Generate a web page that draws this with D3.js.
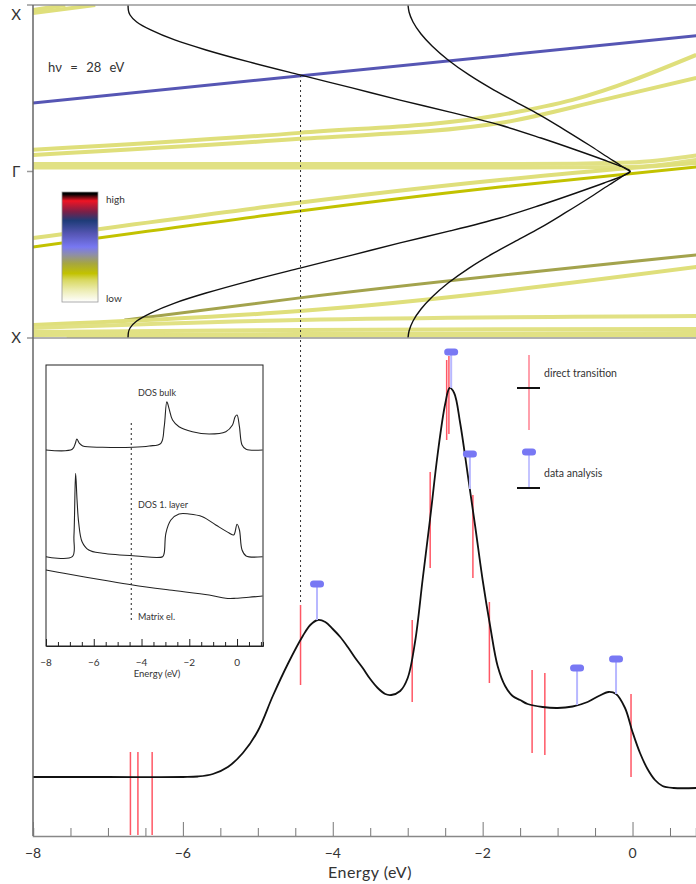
<!DOCTYPE html>
<html><head><meta charset="utf-8">
<script src="https://cdn.jsdelivr.net/npm/d3@7"></script>
<style>
html,body{margin:0;padding:0;background:#fff;}
svg{display:block;}
text{font-family:"Lato","DejaVu Sans",sans-serif;fill:#333;}
</style></head>
<body>
<svg id="fig" width="696" height="884"></svg>
<script>
// ---------- data ----------
const photonEnergy = "hν = 28 eV";
// k-points on the vertical axis of the band panel
const kLabels = [{k: 0.944, label: "X"}, {k: 0, label: "Γ"}, {k: -1, label: "X"}];
const energyTicks = [-8, -6, -4, -2, 0];

// final-state bands (black), from X (k=1) to Γ (k=0); mirrored to k<0
const finalOuter = [[-6.732,1.0],[-6.728,0.970],[-6.705,0.940],[-6.616,0.898],[-6.429,0.850],[-6.109,0.790],[-5.691,0.730],[-5.117,0.658],[-4.437,0.580],[-3.743,0.502],[-3.102,0.429],[-2.435,0.357],[-1.768,0.279],[-1.221,0.201],[-0.754,0.129],[-0.380,0.069],[-0.167,0.033],[-0.073,0.015],[-0.040,0.006],[-0.033,0]];
const finalInner = [[-2.996,1.0],[-2.982,0.958],[-2.929,0.898],[-2.822,0.826],[-2.675,0.754],[-2.461,0.670],[-2.181,0.580],[-1.848,0.489],[-1.555,0.417],[-1.234,0.339],[-0.901,0.249],[-0.580,0.159],[-0.314,0.081],[-0.167,0.039],[-0.087,0.015],[-0.047,0.005],[-0.033,0]];

// initial-state bands: intensity (0 = low .. 1 = high) and [E, k] path
const bandIntensity = [0.62, 0.17, 0.17, 0.17, 0.17, 0.16, 0.16, 0.26, 0.17, 0.36, 0.17, 0.16, 0.16, 0.16, 0.16];
const bandPaths = [
  [[-8.0, 0.412],[0.85, 0.815]],
  [[-8.0, 0.970],[-7.57, 1.0]],
  [[-8.0, 0.952],[-7.17, 1.0]],
  [[-8.0, 0.130],[-4.44, 0.232],[-1.77, 0.339],[-0.80, 0.430],[0.85, 0.700]],
  [[-8.0, 0.099],[-4.44, 0.196],[-1.77, 0.291],[-0.39, 0.430],[0.85, 0.562]],
  [[-8.0, 0.045],[-1.50, 0.045],[-0.03, 0.054],[0.85, 0.096]],
  [[-8.0, 0.024],[-1.50, 0.024],[-0.03, 0.027],[0.85, 0.069]],
  [[-8.0, -0.453],[-1.77, -0.093],[0.85, 0.027]],
  [[-8.0, -0.400],[-1.77, -0.051],[-0.03, 0.021],[0.85, 0.051]],
  [[-6.78, -0.892],[-4.44, -0.759],[0.85, -0.501]],
  [[-8.0, -0.922],[-4.44, -0.838],[0.85, -0.574]],
  [[-8.0, -0.940],[-4.44, -0.892],[0.85, -0.868]],
  [[-8.0, -0.964],[-4.44, -0.952],[0.85, -0.946]],
  [[-8.0, -0.982],[-4.44, -0.976],[0.85, -0.970]],
  [[-7.55, -1.0],[-4.44, -0.985],[0.85, -0.982]]
];

// colour bar stops: position (0 low .. 1 high) and colour
const cbarPos = [0, 0.11, 0.2, 0.26, 0.35, 0.43, 0.5, 0.62, 0.74, 0.82, 0.92, 0.98, 1];
const cbarCol = ["#ffffff","#ececb0","#d8d860","#c2c200","#a6a640","#8e8ea8","#7878f2","#5656b4","#1e3c78","#7a2048","#f01424","#000000","#000000"];

// photoemission spectrum (black curve): energy and intensity
const specE = [-8.0,-7.0,-6.0,-5.8,-5.6,-5.4,-5.2,-5.0,-4.8,-4.6,-4.4,-4.3,-4.2,-4.1,-4.0,-3.9,-3.8,-3.7,-3.6,-3.5,-3.4,-3.3,-3.22,-3.1,-3.0,-2.9,-2.8,-2.7,-2.6,-2.5,-2.44,-2.38,-2.3,-2.2,-2.1,-2.0,-1.9,-1.8,-1.7,-1.6,-1.5,-1.4,-1.2,-1.0,-0.8,-0.6,-0.45,-0.32,-0.22,-0.1,0.0,0.1,0.2,0.3,0.4,0.55,0.85];
const specI = [59,59,59,59.5,62,69,83,105,140,172,200,211,216,214,207,199,189,178,168,157,148,142,141,145,158,195,257,318,382,432,448,443,413,362,310,256,210,170,150,140,136,132,129,128,129.5,134,140,144,142,128,104,83,67,56,50,48,48];

// direct transitions (red): energy, lower and upper intensity
const transE  = [-6.70,-6.60,-6.41,-4.43,-2.94,-2.70,-2.48,-2.45,-2.13,-1.91,-1.34,-1.17,-0.02];
const transLo = [1,1,1,151,134,268,396,402,258,153,83,81,59];
const transHi = [84,84,84,231,216,364,476,480,341,234,166,163,142];

// data analysis (blue): energy, marker intensity, foot intensity
const anaE   = [-4.21,-2.42,-2.17,-0.74,-0.22];
const anaTop = [252,484,382,168,177];
const anaBot = [216,448,347,131,142];

// inset: densities of states and matrix element
const dosBulkE = [-8.0,-6.90,-6.77,-6.71,-6.60,-6.46,-5.63,-4.37,-3.68,-3.19,-3.05,-2.94,-2.85,-2.70,-2.43,-1.87,-1.17,-0.47,-0.19,-0.08,0.0,0.10,0.21,0.38,1.07];
const dosBulkI = [196,196.7,202.7,207,202.7,200,198.7,198.7,200,202.7,219.3,244.3,237.7,226,219.3,214.3,212,214.3,221,229.3,231,219.3,201,196.7,196];
const dosLayerE = [-8.0,-6.90,-6.83,-6.76,-6.70,-6.63,-6.49,-6.21,-5.63,-4.23,-3.12,-3.05,-2.98,-2.77,-2.43,-2.01,-1.45,-0.89,-0.33,-0.14,0.0,0.10,0.21,0.38,1.07];
const dosLayerI = [89.3,89.3,110,172.7,146,123,104.3,96,92.7,90,89.3,93,112.7,126,132,132,129.3,121,113,111,121.7,116,96,90,89.3];
const matrixE = [-8.0,-7.25,-5.63,-4.37,-2.84,-1.17,-0.47,-0.05,0.50,1.07];
const matrixI = [76,72.7,66,61,56,51,47.7,47.7,48.7,50];
const insetTicks = [-8, -6, -4, -2, 0];

// ---------- scales ----------
const svg = d3.select("#fig");
const x = d3.scaleLinear().domain([-8, 0.847]).range([33, 696]);
const yk = d3.scaleLinear().domain([-1, 1]).range([338, 5]);
const yI = d3.scaleLinear().domain([0, 498]).range([836, 338]);
const color = d3.scaleLinear().domain(cbarPos).range(cbarCol).interpolate(d3.interpolateRgb);

// ---------- band panel ----------
const band = svg.append("g");
svg.append("clipPath").attr("id", "clipTop")
  .append("rect").attr("x", 33).attr("y", 5).attr("width", 663).attr("height", 333);
const bandG = band.append("g").attr("clip-path", "url(#clipTop)");
const lineEK = d3.line().x(d => x(d[0])).y(d => yk(d[1])).curve(d3.curveMonotoneX);

bandPaths.forEach((p, i) => {
  bandG.append("path").attr("d", lineEK(p))
    .attr("fill", "none").attr("stroke", color(bandIntensity[i]))
    .attr("stroke-width", bandIntensity[i] > 0.2 ? 3 : 4);
});

// final states, drawn from upper X through Γ to lower X
const curveEK = d3.line().x(d => x(d[0])).y(d => yk(d[1])).curve(d3.curveMonotoneY);
[finalOuter, finalInner].forEach(f => {
  const full = f.concat(f.slice(0, -1).reverse().map(d => [d[0], -d[1]]));
  bandG.append("path").attr("d", curveEK(full))
    .attr("fill", "none").attr("stroke", "#111").attr("stroke-width", 1.4);
});

// frame of band panel
band.append("line").attr("x1", 27).attr("x2", 696).attr("y1", yk(1)).attr("y2", yk(1)).attr("stroke", "#999").attr("stroke-width", 1.5);
band.append("line").attr("x1", 27).attr("x2", 696).attr("y1", yk(-1)).attr("y2", yk(-1)).attr("stroke", "#999").attr("stroke-width", 1.5);
band.append("line").attr("x1", 27).attr("x2", 33).attr("y1", yk(0)).attr("y2", yk(0)).attr("stroke", "#999").attr("stroke-width", 1.5);
kLabels.forEach(d => {
  band.append("text").attr("x", 16).attr("y", yk(d.k)).attr("dy", "0.35em")
    .attr("text-anchor", "middle").attr("font-size", 15).text(d.label);
});
band.append("text").attr("x", 48).attr("y", 67).attr("dy", "0.35em")
  .attr("font-size", 13).attr("word-spacing", 5).text(photonEnergy);

// colour bar
const grad = svg.append("defs").append("linearGradient").attr("id", "cbar")
  .attr("x1", 0).attr("x2", 0).attr("y1", 1).attr("y2", 0);
cbarPos.forEach((p, i) => grad.append("stop").attr("offset", p).attr("stop-color", cbarCol[i]));
band.append("rect").attr("x", 62).attr("y", 192).attr("width", 36).attr("height", 110)
  .attr("fill", "url(#cbar)").attr("stroke", "#999").attr("stroke-width", 0.8);
band.append("text").attr("x", 106).attr("y", 199).attr("dy", "0.35em").attr("font-size", 10).text("high");
band.append("text").attr("x", 106).attr("y", 298).attr("dy", "0.35em").attr("font-size", 10).text("low");

// ---------- spectrum panel ----------
const spec = svg.append("g");
// dotted guide from the band crossing down to the spectrum
spec.append("line").attr("x1", x(-4.43)).attr("x2", x(-4.43)).attr("y1", 75).attr("y2", yI(231))
  .attr("stroke", "#333").attr("stroke-width", 1).attr("stroke-dasharray", "2,3");

// left axis line
svg.append("line").attr("x1", 33).attr("x2", 33).attr("y1", 5).attr("y2", 836).attr("stroke", "#666").attr("stroke-width", 1.5);

// bottom axis
const ax = d3.axisBottom(x).tickValues(d3.range(-8, 0.85, 0.5)).tickSize(-8).tickFormat("");
const axG = svg.append("g").attr("transform", "translate(0,836)").call(ax);
axG.selectAll(".tick line").attr("stroke", "#777").attr("y2", d => Number.isInteger(d / 2) ? -14 : -8);
axG.select(".domain").attr("stroke", "#888").attr("stroke-width", 1.5);
energyTicks.forEach(t => {
  svg.append("text").attr("x", x(t)).attr("y", 853).attr("dy", "0.35em").attr("text-anchor", "middle")
    .attr("font-size", 14).text(t < 0 ? "−" + Math.abs(t) : t);
});
svg.append("text").attr("x", 370).attr("y", 872).attr("dy", "0.35em").attr("text-anchor", "middle")
  .attr("font-size", 16).attr("letter-spacing", 0.5).text("Energy (eV)");

// red transitions
transE.forEach((e, i) => {
  spec.append("line").attr("x1", x(e)).attr("x2", x(e)).attr("y1", yI(transLo[i])).attr("y2", yI(transHi[i]))
    .attr("stroke", "#ff3a4a").attr("stroke-opacity", 0.85).attr("stroke-width", 1.5);
});

// spectrum
const specLine = d3.line().x(d => x(d[0])).y(d => yI(d[1])).curve(d3.curveCatmullRom.alpha(0.5));
spec.append("path").attr("d", specLine(specE.map((e, i) => [e, specI[i]])))
  .attr("fill", "none").attr("stroke", "#111").attr("stroke-width", 1.8);

// data analysis markers
anaE.forEach((e, i) => {
  spec.append("line").attr("x1", x(e)).attr("x2", x(e)).attr("y1", yI(anaTop[i])).attr("y2", yI(anaBot[i]))
    .attr("stroke", "#b8b8ff").attr("stroke-width", 2);
  spec.append("rect").attr("x", x(e) - 7).attr("y", yI(anaTop[i]) - 3.5).attr("width", 14).attr("height", 7)
    .attr("rx", 3.5).attr("fill", "#7878f4");
});

// legend
const lg = svg.append("g");
lg.append("line").attr("x1", 529).attr("x2", 529).attr("y1", 355).attr("y2", 430).attr("stroke", "#ff8090").attr("stroke-width", 1.5);
lg.append("line").attr("x1", 517).attr("x2", 540).attr("y1", 388).attr("y2", 388).attr("stroke", "#111").attr("stroke-width", 2);
lg.append("text").attr("x", 544).attr("y", 373).attr("dy", "0.35em").attr("font-size", 10.5).text("direct transition");
lg.append("line").attr("x1", 529).attr("x2", 529).attr("y1", 452).attr("y2", 488).attr("stroke", "#c4c4ff").attr("stroke-width", 2);
lg.append("rect").attr("x", 522).attr("y", 448.5).attr("width", 14).attr("height", 7).attr("rx", 3.5).attr("fill", "#7878f4");
lg.append("line").attr("x1", 517).attr("x2", 540).attr("y1", 488).attr("y2", 488).attr("stroke", "#111").attr("stroke-width", 2);
lg.append("text").attr("x", 544).attr("y", 473).attr("dy", "0.35em").attr("font-size", 10.5).text("data analysis");

// ---------- inset ----------
const ix = d3.scaleLinear().domain([-8, 1.087]).range([46, 263]);
const iy = d3.scaleLinear().domain([0, 281]).range([646, 365]);
const ins = svg.append("g");
ins.append("rect").attr("x", 46).attr("y", 365).attr("width", 217).attr("height", 281)
  .attr("fill", "#fff").attr("stroke", "#222").attr("stroke-width", 1);
const iax = d3.axisBottom(ix).tickValues(d3.range(-8, 1.05, 0.5)).tickSize(-4).tickFormat("");
const iaxG = ins.append("g").attr("transform", "translate(0,646)").call(iax);
iaxG.selectAll(".tick line").attr("stroke", "#222").attr("y2", d => Number.isInteger(d / 2) ? -7 : -4);
iaxG.select(".domain").attr("stroke", "#222");
insetTicks.forEach(t => {
  ins.append("text").attr("x", ix(t)).attr("y", 662).attr("dy", "0.35em").attr("text-anchor", "middle")
    .attr("font-size", 10).text(t < 0 ? "−" + Math.abs(t) : t);
});
ins.append("text").attr("x", 157).attr("y", 674).attr("dy", "0.35em").attr("text-anchor", "middle")
  .attr("font-size", 9.5).text("Energy (eV)");
ins.append("line").attr("x1", ix(-4.43)).attr("x2", ix(-4.43)).attr("y1", 423).attr("y2", 620)
  .attr("stroke", "#222").attr("stroke-width", 1).attr("stroke-dasharray", "2,3");
const iline = d3.line().x(d => ix(d[0])).y(d => iy(d[1])).curve(d3.curveCatmullRom);
[[dosBulkE, dosBulkI], [dosLayerE, dosLayerI], [matrixE, matrixI]].forEach(([E, I]) => {
  ins.append("path").attr("d", iline(E.map((e, i) => [e, I[i]])))
    .attr("fill", "none").attr("stroke", "#222").attr("stroke-width", 1.1);
});
ins.append("text").attr("x", 138).attr("y", 393).attr("dy", "0.35em").attr("font-size", 9).text("DOS bulk");
ins.append("text").attr("x", 138).attr("y", 505).attr("dy", "0.35em").attr("font-size", 9).text("DOS 1. layer");
ins.append("text").attr("x", 138).attr("y", 617).attr("dy", "0.35em").attr("font-size", 9).text("Matrix el.");
</script>
</body></html>
